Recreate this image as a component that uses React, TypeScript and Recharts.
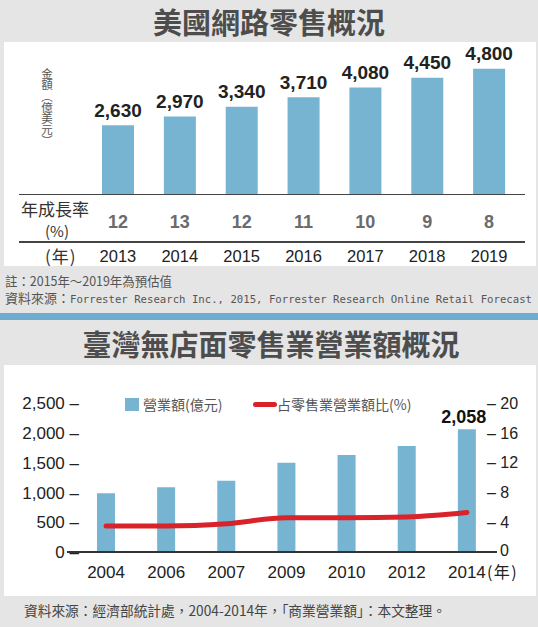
import React from 'react'
import {
  BarChart,
  ComposedChart,
  Bar,
  Line,
  XAxis,
  YAxis,
  LabelList,
} from 'recharts'

// US online retail
const usYears = ['2013', '2014', '2015', '2016', '2017', '2018', '2019']
const usSales = [2630, 2970, 3340, 3710, 4080, 4450, 4800]
const usGrowth = [12, 13, 12, 11, 10, 9, 8]

// Taiwan non-store retail
const twYears = ['2004', '2006', '2007', '2009', '2010', '2012', '2014']
const twRevenue = [985, 1085, 1196, 1498, 1627, 1779, 2058]
const twShare = [3.5, 3.5, 3.8, 4.6, 4.6, 4.7, 5.3]
const twLeftTicks = [0, 500, 1000, 1500, 2000, 2500]
const twRightTicks = [0, 4, 8, 12, 16, 20]

const NUM_FONT = '"Liberation Sans", Arial, sans-serif'
const CJK_FONT = '"Noto Sans CJK TC", "Noto Sans", sans-serif'
const MONO_FONT = '"DejaVu Sans Mono", "Liberation Mono", monospace'
const BAR = '#77b4d1'
const RED = '#d9222a'
const BG = '#e5e5e5'

const usData = usYears.map((year, i) => ({
  year,
  sales: usSales[i],
  growth: usGrowth[i],
}))

const twData = twYears.map((year, i) => ({
  year,
  revenue: twRevenue[i],
  share: twShare[i],
}))

function UsTick({ x, y, payload, index }: any) {
  return (
    <g>
      <text
        x={x}
        y={y + 34}
        textAnchor="middle"
        fontSize={18}
        fontWeight="bold"
        fill="#6b6b6b"
        fontFamily={NUM_FONT}
      >
        {usGrowth[index]}
      </text>
      <text
        x={x}
        y={y + 68}
        textAnchor="middle"
        fontSize={16.5}
        fill="#222"
        fontFamily={NUM_FONT}
      >
        {payload.value}
      </text>
    </g>
  )
}

function TwTick({ x, y, payload, index }: any) {
  return (
    <g>
      <text
        x={x}
        y={y + 26}
        textAnchor="middle"
        fontSize={17}
        fill="#222"
        fontFamily={NUM_FONT}
      >
        {payload.value}
      </text>
      {index === twYears.length - 1 && (
        <text
          x={x + 20}
          y={y + 26}
          fontSize={16}
          fill="#222"
          fontFamily={CJK_FONT}
          letterSpacing={1.5}
        >
          (年)
        </text>
      )}
    </g>
  )
}

function LeftTick({ x, y, payload }: any) {
  return (
    <text
      x={x + 3}
      y={y}
      dy="0.36em"
      textAnchor="end"
      fontSize={17}
      fill="#222"
      fontFamily={NUM_FONT}
    >
      {payload.value.toLocaleString('en-US') + ' –'}
    </text>
  )
}

function RightTick({ x, y, payload }: any) {
  // the zero tick sits on the end of the baseline, so it has no dash
  const zero = payload.value === 0
  return (
    <text
      x={zero ? x + 3 : x - 10}
      y={y}
      dy={zero ? '0.25em' : '0.36em'}
      fontSize={16}
      fill="#222"
      fontFamily={NUM_FONT}
    >
      {zero ? '0' : '– ' + payload.value}
    </text>
  )
}

function LastLabel({ x, y, width, value, index }: any) {
  if (index !== twYears.length - 1) return null
  return (
    <text
      x={x + width / 2 - 3}
      y={y - 6}
      textAnchor="middle"
      fontSize={18}
      fontWeight="bold"
      fill="#111"
      fontFamily={NUM_FONT}
    >
      {value.toLocaleString('en-US')}
    </text>
  )
}

const abs = (s: React.CSSProperties): React.CSSProperties => ({
  position: 'absolute',
  ...s,
})

export default function App() {
  return (
    <div
      style={abs({
        left: 0,
        top: 0,
        width: 538,
        height: 627,
        background: BG,
        overflow: 'hidden',
        fontFamily: CJK_FONT,
      })}
    >
      {/* top title */}
      <div
        style={abs({
          left: 0,
          top: 0,
          width: 538,
          height: 42,
          lineHeight: '42px',
          textAlign: 'center',
          fontSize: 29,
          fontWeight: 700,
          color: '#4d4d4d',
        })}
      >
        美國網路零售概況
      </div>

      <div style={abs({ left: 4, top: 42, width: 532, height: 224, background: '#fff' })} />

      <div style={abs({ left: 0, top: 0 })}>
        <BarChart
          width={538}
          height={266}
          data={usData}
          margin={{ top: 63.5, right: 18, left: 87, bottom: 0 }}
        >
          <YAxis hide domain={[0, 5000]} />
          <XAxis
            dataKey="year"
            height={72}
            axisLine={false}
            tickLine={false}
            tickSize={0}
            tickMargin={0}
            interval={0}
            tick={<UsTick />}
          />
          <Bar dataKey="sales" fill={BAR} barSize={32} isAnimationActive={false}>
            <LabelList
              dataKey="sales"
              position="top"
              offset={8.5}
              formatter={(v: any) => Number(v).toLocaleString('en-US')}
              style={{
                fontSize: 19,
                fontWeight: 'bold',
                fill: '#222',
                fontFamily: NUM_FONT,
              }}
            />
          </Bar>
        </BarChart>
      </div>

      {/* rules of the table under the bars */}
      <div style={abs({ left: 19, top: 193.5, width: 506, height: 1.5, background: '#444' })} />
      <div style={abs({ left: 19, top: 241, width: 506, height: 1.5, background: '#444' })} />

      {/* y label, vertical */}
      <div
        style={abs({
          left: 40,
          top: 68,
          writingMode: 'vertical-rl',
          textOrientation: 'upright',
          fontSize: 11.5,
          letterSpacing: -0.3,
          lineHeight: '14px',
          color: '#555',
        })}
      >
        金額︵億美元︶
      </div>

      <div style={abs({ left: 21, top: 197, fontSize: 17, color: '#333', lineHeight: '24px' })}>
        年成長率
      </div>
      <div style={abs({ left: 45, top: 220, fontSize: 15, color: '#333', lineHeight: '22px' })}>
        (%)
      </div>
      <div style={abs({ left: 45, top: 244, fontSize: 17, color: '#333', lineHeight: '24px', letterSpacing: 1 })}>
        (年)
      </div>

      {/* notes */}
      <svg style={abs({ left: 0, top: 266 })} width={538} height={47}>
        <text x={5} y={19.5} fontSize={13} fill="#555" fontFamily={CJK_FONT} textLength={167} lengthAdjust="spacingAndGlyphs">
          註：2015年～2019年為預估值
        </text>
        <text x={5} y={37} fontSize={13} fill="#555" fontFamily={CJK_FONT}>
          資料來源：
        </text>
        <text x={70} y={37} fontSize={10.8} fill="#555" fontFamily={MONO_FONT} textLength={462} lengthAdjust="spacingAndGlyphs">
          Forrester Research Inc., 2015, Forrester Research Online Retail Forecast
        </text>
      </svg>

      <div style={abs({ left: 0, top: 313, width: 538, height: 7, background: '#6fadd0' })} />

      {/* second title */}
      <div
        style={abs({
          left: 2,
          top: 320,
          width: 538,
          height: 46,
          lineHeight: '46px',
          textAlign: 'center',
          fontSize: 29,
          fontWeight: 700,
          color: '#4d4d4d',
        })}
      >
        臺灣無店面零售業營業額概況
      </div>

      <div style={abs({ left: 4, top: 365, width: 532, height: 231, background: '#fff' })} />

      <div style={abs({ left: 0, top: 365 })}>
        <ComposedChart
          width={538}
          height={231}
          data={twData}
          margin={{ top: 38, right: 0, left: 0, bottom: 0 }}
        >
          <YAxis
            yAxisId="left"
            width={76}
            domain={[0, 2500]}
            ticks={twLeftTicks}
            axisLine={false}
            tickLine={false}
            tickSize={0}
            tickMargin={0}
            tick={<LeftTick />}
          />
          <YAxis
            yAxisId="right"
            orientation="right"
            width={41}
            domain={[0, 20]}
            ticks={twRightTicks}
            axisLine={false}
            tickLine={false}
            tickSize={0}
            tickMargin={0}
            tick={<RightTick />}
          />
          <XAxis
            dataKey="year"
            height={44}
            axisLine={false}
            tickLine={false}
            tickSize={0}
            tickMargin={0}
            interval={0}
            tick={<TwTick />}
          />
          <Bar yAxisId="left" dataKey="revenue" fill={BAR} barSize={18} isAnimationActive={false}>
            <LabelList dataKey="revenue" content={<LastLabel />} />
          </Bar>
          <Line
            yAxisId="right"
            type="monotone"
            dataKey="share"
            stroke={RED}
            strokeWidth={5}
            strokeLinecap="round"
            dot={false}
            isAnimationActive={false}
          />
        </ComposedChart>
      </div>

      <div style={abs({ left: 67, top: 551, width: 430, height: 2, background: '#333' })} />

      {/* legend */}
      <div style={abs({ left: 125, top: 398, width: 14, height: 13, background: BAR })} />
      <div style={abs({ left: 143, top: 393, fontSize: 14, color: '#555', lineHeight: '22px' })}>
        營業額(億元)
      </div>
      <div style={abs({ left: 253, top: 402, width: 24, height: 5, borderRadius: 3, background: RED })} />
      <div style={abs({ left: 277, top: 393, fontSize: 14, color: '#555', lineHeight: '22px' })}>
        占零售業營業額比(%)
      </div>

      {/* footer */}
      <svg style={abs({ left: 0, top: 596 })} width={538} height={31}>
        <text x={24} y={19.5} fontSize={14} fill="#444" fontFamily={CJK_FONT} textLength={422} lengthAdjust="spacingAndGlyphs">
          資料來源：經濟部統計處，2004-2014年，「商業營業額」：本文整理。
        </text>
      </svg>
    </div>
  )
}
